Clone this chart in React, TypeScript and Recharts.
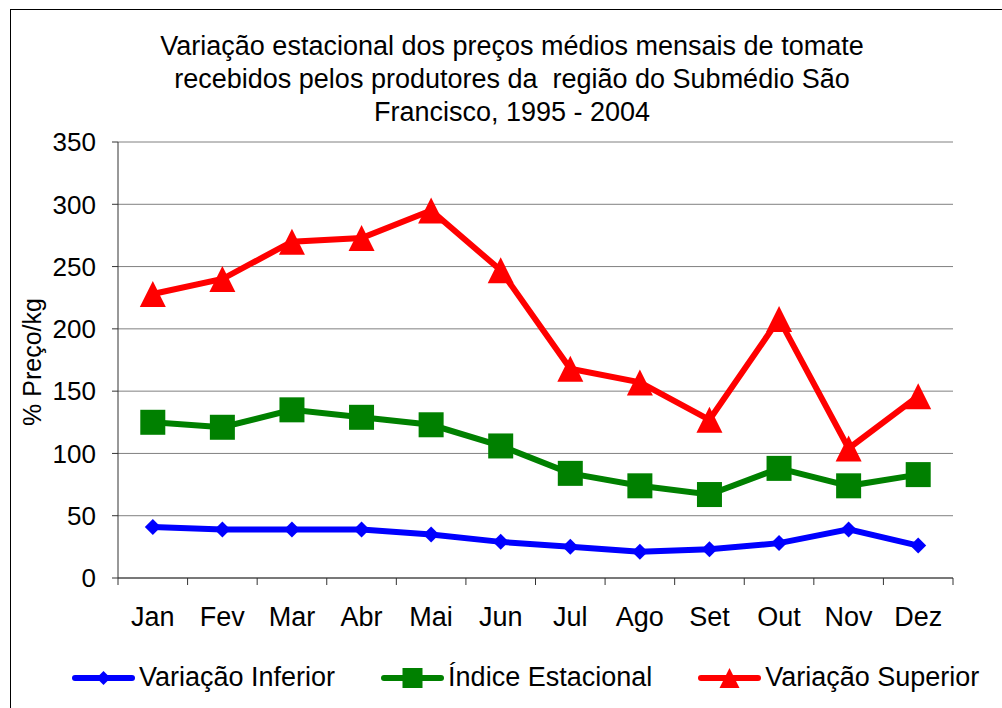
import React from 'react';
import { LineChart, Line, XAxis, YAxis, CartesianGrid } from 'recharts';

const months = ['Jan', 'Fev', 'Mar', 'Abr', 'Mai', 'Jun', 'Jul', 'Ago', 'Set', 'Out', 'Nov', 'Dez'];
const inferior = [41, 39, 39, 39, 35, 29, 25, 21, 23, 28, 39, 26];
const indice = [125, 121, 135, 129, 123, 106, 84, 74, 67, 88, 74, 83];
const superior = [228, 240, 270, 273, 295, 247, 168, 157, 127, 208, 104, 146];
const yTicks = [0, 50, 100, 150, 200, 250, 300, 350];

const data = months.map((m, i) => ({
  mes: m,
  inferior: inferior[i],
  indice: indice[i],
  superior: superior[i],
}));

const FONT = '"Liberation Sans", Arial, sans-serif';
const PLOT_W = 835;
const BAND = PLOT_W / months.length;

// marker shapes
const Diamond = ({ cx, cy, s = 8, color }: any) => (
  <path d={`M${cx},${cy - s} L${cx + s},${cy} L${cx},${cy + s} L${cx - s},${cy} Z`} fill={color} />
);
const Square = ({ cx, cy, s = 12.5, color }: any) => (
  <rect x={cx - s} y={cy - s} width={s * 2} height={s * 2} fill={color} />
);
const Triangle = ({ cx, cy, s = 13, color }: any) => (
  <path d={`M${cx},${cy - s} L${cx + s},${cy + s} L${cx - s},${cy + s} Z`} fill={color} />
);

const series = [
  { key: 'inferior', name: 'Variação Inferior', color: '#0000FF', Shape: Diamond },
  { key: 'indice', name: 'Índice Estacional', color: '#008000', Shape: Square },
  { key: 'superior', name: 'Variação Superior', color: '#FF0000', Shape: Triangle },
];

const MonthTick = (props: any) => {
  const { x, y, payload, index } = props;
  const half = BAND / 2;
  return (
    <g>
      <line x1={x - half} y1={y} x2={x - half} y2={y + 7} stroke="#333" />
      {index === months.length - 1 && (
        <line x1={x + half} y1={y} x2={x + half} y2={y + 7} stroke="#333" />
      )}
      <text x={x} y={y + 48} textAnchor="middle" fontSize={27} fontFamily={FONT} fill="#000">
        {payload.value}
      </text>
    </g>
  );
};

const LegendIcon = ({ color, Shape }: any) => (
  <svg width={63} height={26}>
    <line x1={3} y1={13} x2={60} y2={13} stroke={color} strokeWidth={6} strokeLinecap="round" />
    <Shape cx={31.5} cy={13} s={Shape === Diamond ? 7 : 10} color={color} />
  </svg>
);

export default function App() {
  return (
    <div style={{ position: 'absolute', left: 0, top: 0, width: 1002, height: 708, overflow: 'hidden', background: '#fff', fontFamily: FONT }}>
      <div style={{ position: 'absolute', left: 10, top: 9, width: 1000, height: 710, border: '1px solid #000' }} />
      <div style={{ position: 'absolute', left: 62, top: 30, width: 900, textAlign: 'center', fontSize: 27, lineHeight: '33px', whiteSpace: 'pre', color: '#000' }}>
        {'Variação estacional dos preços médios mensais de tomate\nrecebidos pelos produtores da  região do Submédio São\nFrancisco, 1995 - 2004'}
      </div>
      <div style={{ position: 'absolute', left: 32, top: 362, transform: 'translate(-50%, -50%) rotate(-90deg)', fontSize: 25, whiteSpace: 'nowrap', color: '#000' }}>
        % Preço/kg
      </div>
      <div style={{ position: 'absolute', left: 0, top: 0 }}>
        <LineChart width={1002} height={708} data={data} margin={{ top: 142, right: 49, bottom: 100, left: 58 }}>
          <CartesianGrid vertical={false} stroke="#808080" />
          <XAxis dataKey="mes" scale="band" height={30} tickSize={0} tickMargin={0} tickLine={false} axisLine={{ stroke: '#333' }} tick={<MonthTick />} interval={0} />
          <YAxis width={60} domain={[0, 350]} ticks={yTicks} interval={0} tickSize={6} tickMargin={16} axisLine={{ stroke: '#333' }} tickLine={{ stroke: '#333' }} tick={{ fontSize: 26, fill: '#000', fontFamily: FONT }} />
          <YAxis yAxisId="r" orientation="right" width={0} domain={[0, 350]} tick={false} tickLine={false} axisLine={{ stroke: '#808080', strokeWidth: 2 }} />
          {series.map(s => (
            <Line
              key={s.key}
              dataKey={s.key}
              name={s.name}
              stroke={s.color}
              strokeWidth={6}
              isAnimationActive={false}
              dot={(p: any) => <s.Shape key={p.index} cx={p.cx} cy={p.cy} color={s.color} />}
              activeDot={false}
            />
          ))}
        </LineChart>
      </div>
      <div style={{ position: 'absolute', left: 72, top: 662, display: 'flex', alignItems: 'center', gap: 46, fontSize: 27, color: '#000' }}>
        {series.map(s => (
          <div key={s.key} style={{ display: 'flex', alignItems: 'center', gap: 4 }}>
            <LegendIcon color={s.color} Shape={s.Shape} />
            <span>{s.name}</span>
          </div>
        ))}
      </div>
    </div>
  );
}
